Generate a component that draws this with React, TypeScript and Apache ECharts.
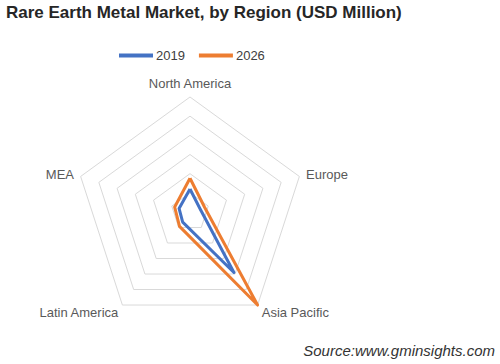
import React, { useEffect, useRef } from "react";
import * as echarts from "echarts";

// Regions in the radar's drawing order (clockwise from the top in the reference)
const regions = ["North America", "MEA", "Latin America", "Asia Pacific", "Europe"];
const values2019 = [600, 300, 325, 1950, 275];
const values2026 = [880, 420, 465, 3000, 400];
const seriesNames = ["2019", "2026"];
const maxValue = 3000;
const lowerNames = ["Latin America", "Asia Pacific"];

export default function App() {
  const ref = useRef<HTMLDivElement>(null);
  useEffect(() => {
    document.body.style.margin = "0";
    const chart = echarts.init(ref.current!, null, { renderer: "svg" });
    chart.setOption({
      animation: false,
      backgroundColor: "#ffffff",
      title: {
        text: "Rare Earth Metal Market, by Region (USD Million)",
        left: 6,
        top: 4,
        padding: 0,
        textStyle: { fontFamily: "Liberation Sans", fontSize: 17, fontWeight: "bold", color: "#262626" },
      },
      legend: {
        data: seriesNames.map((n) => ({ name: n, icon: "rect" })),
        left: 119,
        top: 49,
        padding: 0,
        itemWidth: 34,
        itemHeight: 4,
        itemGap: 14,
        textStyle: { fontFamily: "Liberation Sans", fontSize: 13, color: "#404040", padding: [0, 0, 0, -2] },
      },
      graphic: [
        {
          type: "text",
          right: 5,
          top: 343,
          style: {
            text: "Source:www.gminsights.com",
            font: "italic 15px 'Liberation Sans'",
            fill: "#333333",
          },
        },
      ],
      radar: {
        center: [190, 212],
        radius: 115,
        startAngle: 90,
        shape: "polygon",
        splitNumber: 6,
        nameGap: 7,
        indicator: regions.map((r) => ({ name: r, max: maxValue, min: 0 })),
        axisName: {
          color: "#595959",
          fontFamily: "Liberation Sans",
          fontSize: 13,
          formatter: (name: string) => (lowerNames.indexOf(name) >= 0 ? `{b|${name}}` : name),
          rich: {
            b: { padding: [4, 0, 0, 0], color: "#595959", fontFamily: "Liberation Sans", fontSize: 13 },
          },
        },
        axisLine: { show: false },
        axisTick: { show: false },
        splitArea: { show: false },
        splitLine: { lineStyle: { color: "#d9d9d9", width: 1 } },
      },
      series: [
        {
          type: "radar",
          symbol: "none",
          data: [
            {
              name: seriesNames[0],
              value: values2019,
              lineStyle: { color: "#4472C4", width: 3 },
              itemStyle: { color: "#4472C4" },
            },
            {
              name: seriesNames[1],
              value: values2026,
              lineStyle: { color: "#ED7D31", width: 3 },
              itemStyle: { color: "#ED7D31" },
            },
          ],
        },
      ],
    });
    return () => chart.dispose();
  }, []);
  return <div ref={ref} style={{ width: 500, height: 364 }} />;
}
